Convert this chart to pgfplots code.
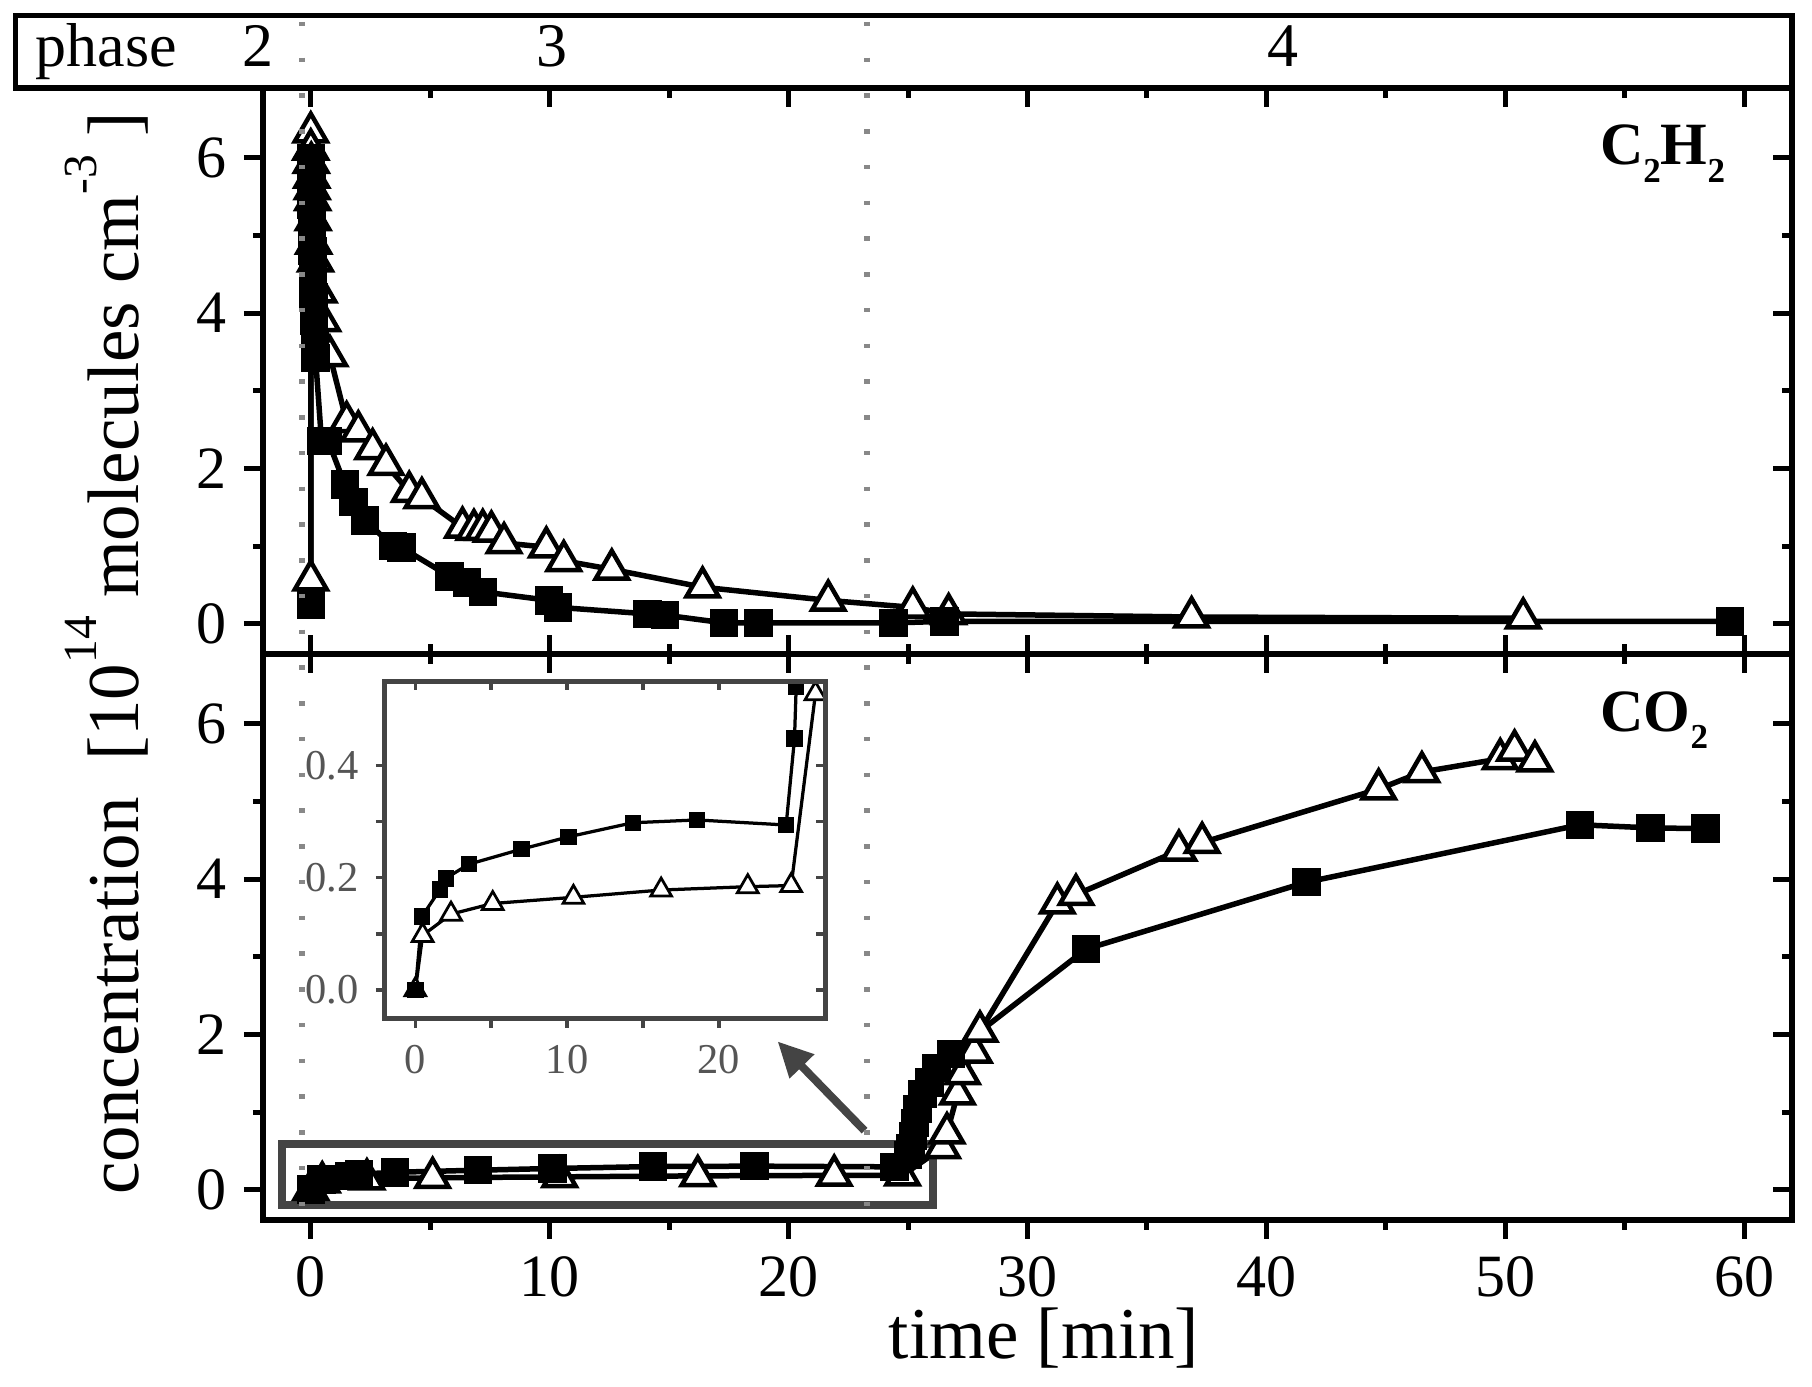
\documentclass[border=0pt]{standalone}
\usepackage{fontspec}
\setmainfont{Liberation Serif}
\usepackage{pgfplots}
\pgfplotsset{compat=1.18}
\usetikzlibrary{arrows.meta}
\definecolor{dotgray}{HTML}{888888}
\definecolor{framegray}{HTML}{444444}
\definecolor{labgray}{HTML}{555555}
\pgfplotsset{
  panel/.style={
    scale only axis, width=305.8pt, height=113.2pt,
    xmin=-2, xmax=62, ymin=-0.39, ymax=6.9,
    xtick={0,10,20,30,40,50,60}, ytick={0,2,4,6},
    minor x tick num=1, minor y tick num=1,
    major tick length=3.8pt, minor tick length=2pt,
    tick style={black, line width=1pt},
    axis line style={line width=1.15pt},
    ticklabel style={font=\fontsize{12}{12}\selectfont},
    /pgf/number format/assume math mode=true,
    clip=false,
  },
  sq/.style={black, line width=1.1pt, mark=square*, mark size=2.6pt,
    mark options={solid, fill=black, line width=0.5pt}},
  tri/.style={black, line width=1.1pt, mark=triangle*, mark size=3.7pt,
    mark options={solid, fill=white, line width=0.9pt}},
  sqs/.style={black, line width=0.65pt, mark=square*, mark size=1.5pt,
    mark options={solid, fill=black, line width=0.3pt}},
  tris/.style={black, line width=0.65pt, mark=triangle*, mark size=2.4pt,
    mark options={solid, fill=white, line width=0.55pt}},
}
\newcommand{\sub}[1]{\raisebox{-3.5pt}{\fontsize{7}{7}\selectfont #1}}
\newcommand{\sups}[1]{\raisebox{8.5pt}{\fontsize{9.5}{9.5}\selectfont #1}}
\begin{document}
\begin{tikzpicture}
\useasboundingbox (0,0) rectangle (362.4pt,-277.4pt);

% ---------- upper panel (C2H2) ----------
\begin{axis}[panel, at={(52.6pt,-17.6pt)}, anchor=north west,
  tick align=outside, xtick pos=left, ytick pos=left, xticklabels={}]
\addplot[tri] coordinates {
(0,0.56) (0,6.33) (0,6.11) (0.02,5.94) (0.04,5.75) (0.06,5.6) (0.08,5.46)
(0.1,5.2) (0.12,4.9) (0.2,4.67) (0.35,4.27) (0.5,3.9) (0.8,3.45) (1.5,2.6)
(1.99,2.48) (2.59,2.25) (3.15,2.05) (4.12,1.70) (4.65,1.62) (6.35,1.24)
(6.83,1.21) (7.2,1.21) (7.56,1.19) (8.09,1.04) (9.86,0.985) (10.59,0.81)
(12.6,0.70) (16.4,0.47) (21.66,0.30) (25.2,0.21) (26.7,0.126) (36.87,0.086)
(50.75,0.07)};
\addplot[sq] coordinates {
(0,0.25) (0,6.0) (0.01,5.85) (0.02,5.65) (0.03,5.4) (0.05,5.1) (0.07,4.8)
(0.09,4.5) (0.11,4.2) (0.14,3.9) (0.17,3.6) (0.2,3.42) (0.45,2.35) (0.73,2.35)
(1.43,1.79) (1.78,1.57) (2.27,1.33) (3.44,1.0) (3.8,0.98) (5.81,0.61)
(6.54,0.53) (7.2,0.41) (9.98,0.30) (10.35,0.21) (14.1,0.126) (14.83,0.11)
(17.3,0.01) (18.75,0.01) (24.4,0.01) (26.52,0.03) (59.4,0.03)};
\end{axis}
\begin{axis}[panel, at={(52.6pt,-17.6pt)}, anchor=north west,
  tick align=inside, xtick pos=both, ytick pos=right,
  xticklabels={}, yticklabels={}]
\addplot[draw=none] coordinates {(0,0)};
\end{axis}

% ---------- lower panel (CO2) ----------
\begin{axis}[panel, at={(52.6pt,-130.8pt)}, anchor=north west,
  tick align=outside, xtick pos=left, ytick pos=left]
\addplot[tri] coordinates {
(0,0) (0.48,0.097) (2.35,0.135) (5.1,0.154) (10.42,0.165) (16.2,0.178)
(21.91,0.184) (24.77,0.186) (26.44,0.54) (26.63,0.73) (27.07,1.23)
(27.28,1.49) (27.77,1.77) (28.01,2.04) (31.25,3.69) (32.03,3.80)
(36.34,4.37) (37.31,4.47) (44.70,5.16) (46.51,5.38) (49.79,5.55)
(50.39,5.66) (51.24,5.52)};
\addplot[sq] coordinates {
(0,0) (0.44,0.131) (1.63,0.179) (2.02,0.199) (3.52,0.224) (7.01,0.251)
(10.11,0.273) (14.33,0.298) (18.57,0.303) (24.44,0.294) (24.99,0.448)
(25.1,0.54) (25.2,0.69) (25.3,0.86) (25.4,1.04) (25.6,1.23) (25.9,1.38)
(26.2,1.57) (26.8,1.75) (32.46,3.10) (41.67,3.96) (53.13,4.70)
(56.08,4.66) (58.39,4.65)};
\draw[framegray, line width=1.5pt] (axis cs:-1.21,-0.195) rectangle (axis cs:26.05,0.59);
\draw[framegray, line width=1.6pt, -{Triangle[length=7pt,width=6.5pt]}]
  (axis cs:23.18,0.76) -- (axis cs:19.54,1.91);
\end{axis}
\begin{axis}[panel, at={(52.6pt,-130.8pt)}, anchor=north west,
  tick align=inside, xtick pos=right, ytick pos=right,
  xticklabels={}, yticklabels={}]
\addplot[draw=none] coordinates {(0,0)};
\end{axis}

% ---------- inset ----------
\begin{axis}[at={(77pt,-136.3pt)}, anchor=north west,
  scale only axis, width=88pt, height=67.5pt,
  xmin=-2, xmax=27, ymin=-0.052, ymax=0.55,
  xtick={0,10,20}, ytick={0,0.2,0.4},
  minor x tick num=1, minor y tick num=1,
  axis line style={framegray, line width=1pt},
  tick style={framegray, line width=0.7pt},
  major tick length=1.8pt, minor tick length=1.8pt,
  tick align=outside, xtick pos=left, ytick pos=left,
  ticklabel style={labgray, font=\fontsize{8.5}{8.5}\selectfont},
  yticklabel style={/pgf/number format/.cd, fixed, fixed zerofill, precision=1},
  /pgf/number format/assume math mode=true,
  axis background/.style={fill=white}]
\addplot[tris] coordinates {
(0,0) (0.48,0.097) (2.35,0.135) (5.1,0.154) (10.42,0.165) (16.2,0.178)
(21.91,0.184) (24.77,0.186) (26.37,0.528) (26.63,0.73)};
\addplot[sqs] coordinates {
(0,0) (0.44,0.131) (1.63,0.179) (2.02,0.199) (3.52,0.224) (7.01,0.251)
(10.11,0.273) (14.33,0.298) (18.57,0.303) (24.44,0.294) (24.99,0.448)
(25.1,0.54) (25.2,0.69)};
\end{axis}
\begin{axis}[at={(77pt,-136.3pt)}, anchor=north west,
  scale only axis, width=88pt, height=67.5pt,
  xmin=-2, xmax=27, ymin=-0.052, ymax=0.55,
  xtick={0,10,20}, ytick={0,0.2,0.4},
  minor x tick num=1, minor y tick num=1,
  axis line style={framegray, line width=1pt},
  tick style={framegray, line width=0.7pt},
  major tick length=1.8pt, minor tick length=1.8pt,
  tick align=inside, xtick pos=right, ytick pos=right,
  xticklabels={}, yticklabels={}]
\addplot[draw=none] coordinates {(0,0)};
\end{axis}

% ---------- phase bar ----------
\draw[line width=1.1pt] (3.1pt,-3.1pt) rectangle (358.4pt,-17.6pt);
\begin{scope}[every node/.style={inner sep=0pt, font=\fontsize{12.4}{12.4}\selectfont}]
\node[anchor=base west] at (6.9pt,-13.4pt) {phase};
\node[anchor=base] at (51.5pt,-13.4pt) {2};
\node[anchor=base] at (110.4pt,-13.4pt) {3};
\node[anchor=base] at (256.5pt,-13.4pt) {4};
\end{scope}

% ---------- phase boundaries ----------
\draw[dotgray, line width=1.2pt, dash pattern=on 0.9pt off 6.25pt] (60.3pt,-4.4pt) -- (60.3pt,-242pt);
\draw[dotgray, line width=1.2pt, dash pattern=on 0.9pt off 6.25pt] (173.3pt,-4.4pt) -- (173.3pt,-242pt);

% ---------- species labels ----------
\node[anchor=base east, inner sep=0pt, font=\fontsize{12}{12}\selectfont\bfseries] at (345.2pt,-33pt) {C\sub{2}H\sub{2}};
\node[anchor=base east, inner sep=0pt, font=\fontsize{12}{12}\selectfont\bfseries] at (341.8pt,-146.3pt) {CO\sub{2}};

% ---------- axis titles ----------
\node[rotate=90, anchor=base, inner sep=0pt, font=\fontsize{14.6}{14.6}\selectfont] at (27.8pt,-130.7pt)
  {concentration\ \ [10\sups{14} molecules cm\sups{-3} ]};
\node[anchor=base, inner sep=0pt, font=\fontsize{14.6}{14.6}\selectfont] at (208.8pt,-271.8pt) {time [min]};
\end{tikzpicture}
\end{document}
